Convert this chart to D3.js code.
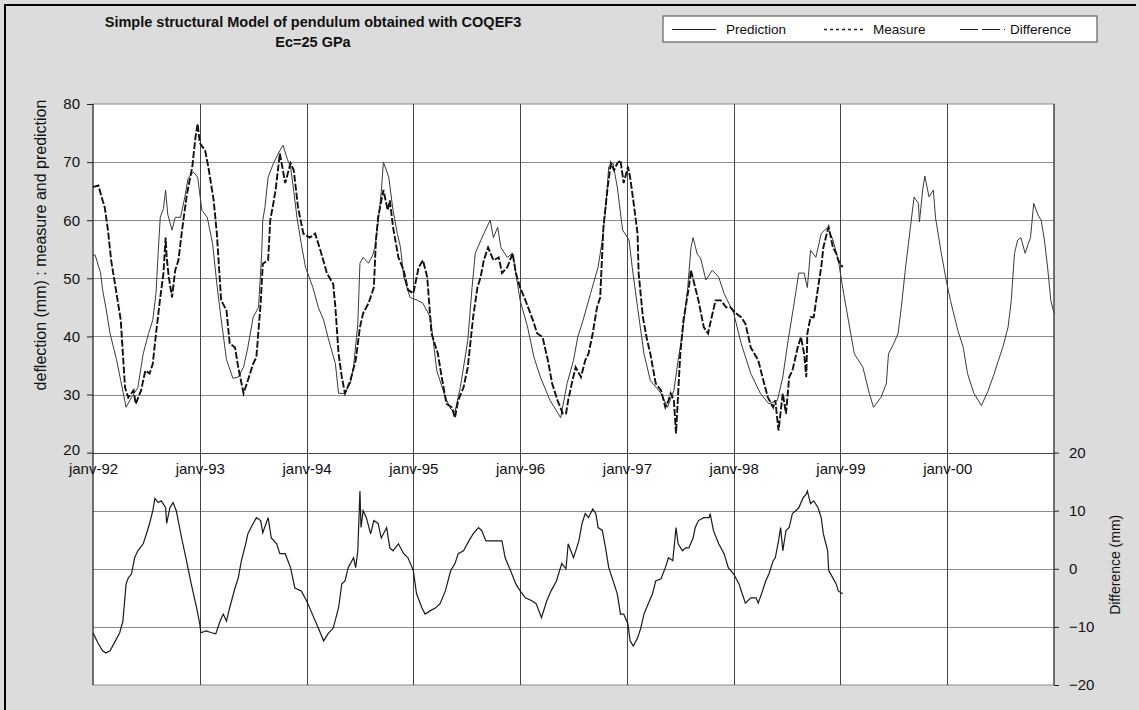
<!DOCTYPE html>
<html>
<head>
<meta charset="utf-8">
<script src="https://cdn.jsdelivr.net/npm/d3@7"></script>
<style>
  body { margin: 0; background: #ffffff; }
  svg text { font-family: "Liberation Sans", Arial, sans-serif; fill: #111; }
</style>
</head>
<body>
<svg id="chart" width="1139" height="710"></svg>
<script>
// ---- Data (dates in decimal years) ----
const predDates = [
  1992.00,1992.02,1992.07,1992.09,1992.12,1992.16,1992.22,1992.26,1992.31,1992.36,1992.42,1992.47,1992.52,1992.56,1992.59,1992.61,1992.63,1992.66,1992.68,1992.70,
  1992.74,1992.77,1992.82,1992.86,1992.89,1992.94,1992.98,1993.02,1993.07,1993.12,1993.16,1993.20,1993.25,1993.31,1993.36,1993.41,1993.45,1993.50,1993.55,1993.58,
  1993.59,1993.61,1993.64,1993.69,1993.75,1993.78,1993.82,1993.85,1993.88,1993.91,1993.95,1993.99,1994.06,1994.11,1994.16,1994.20,1994.27,1994.30,1994.36,1994.41,
  1994.44,1994.48,1994.50,1994.53,1994.58,1994.62,1994.64,1994.67,1994.70,1994.72,1994.77,1994.81,1994.85,1994.88,1994.91,1994.97,1995.04,1995.09,1995.16,1995.22,
  1995.30,1995.35,1995.39,1995.44,1995.51,1995.55,1995.58,1995.66,1995.72,1995.75,1995.79,1995.82,1995.88,1995.93,1995.96,1996.00,1996.07,1996.13,1996.19,1996.28,
  1996.38,1996.44,1996.50,1996.54,1996.59,1996.66,1996.73,1996.77,1996.80,1996.83,1996.87,1996.91,1996.96,1997.02,1997.05,1997.10,1997.16,1997.22,1997.32,1997.38,
  1997.44,1997.48,1997.52,1997.57,1997.60,1997.62,1997.66,1997.69,1997.74,1997.80,1997.86,1997.91,1998.00,1998.07,1998.16,1998.25,1998.33,1998.41,1998.46,1998.51,
  1998.56,1998.61,1998.66,1998.69,1998.72,1998.77,1998.82,1998.88,1998.93,1998.98,1999.03,1999.13,1999.21,1999.27,1999.31,1999.38,1999.43,1999.45,1999.50,1999.54,
  1999.57,1999.61,1999.66,1999.69,1999.73,1999.74,1999.77,1999.79,1999.83,1999.87,1999.89,1999.94,1999.99,2000.03,2000.10,2000.15,2000.19,2000.25,2000.32,2000.38,
  2000.44,2000.48,2000.52,2000.57,2000.60,2000.63,2000.66,2000.69,2000.73,2000.76,2000.78,2000.81,2000.85,2000.88,2000.91,2000.94,2000.97,2001.00
];
const predValues = [
  54,54,51,48,45,40.5,36,32.4,27.8,29.5,31.2,37,40.5,42.8,47.4,54.3,60.5,62,65.2,61,
  58.3,60.5,60.5,64,67.2,68.3,67.4,61.7,60.5,56,49,43,36,32.8,33,34.7,38.1,43.3,45,54.3,
  60,62.2,67.4,69.8,72,72.9,70.5,69.2,65,60.5,56,51.9,48.4,45,42.8,39.9,35.3,30.2,30.2,32,
  34.7,42.2,52.6,53.6,52.6,54,55.3,59.5,65,70,67.4,61.7,57.7,55.3,50.2,46.7,46.2,45.7,43.3,34.1,
  29.5,27.5,27,31.2,39.3,48.4,54.3,57.7,60,57,58.8,55.3,53.6,54.3,50.9,46.2,41.6,36.4,33,29,
  26,31.9,35.9,39.9,42.8,47.4,51.9,56.6,61.7,69.2,69.8,65.7,58.3,56.6,51.9,45,37,32.4,30.2,27.8,
  30.7,35.9,40.5,48.4,55.3,57,54.1,53.5,49.7,51.4,50.2,47.4,44,38.8,33.6,30.2,28.4,29,33,39.3,
  45,50.9,50.9,48.4,54.8,53.6,57.7,58.8,56.6,53.1,47.4,37,34.7,30.2,27.8,29.5,31.9,37,38.8,40.5,
  45,51.9,59.5,64,62.9,59.7,65.2,67.6,64,65.2,60.5,54.8,49.7,46.2,41,38.1,33.6,30.2,28.1,30.5,
  33.6,35.9,38.1,41.6,46.2,54.3,56.6,57,54.3,56,57,62.9,60.9,60,56.6,51.9,46.2,44
];

const measDates = [
  1992.00,1992.05,1992.08,1992.11,1992.14,1992.17,1992.22,1992.26,1992.28,1992.30,1992.33,1992.38,1992.40,1992.45,1992.49,1992.53,1992.56,1992.59,1992.63,1992.66,
  1992.68,1992.69,1992.71,1992.74,1992.77,1992.80,1992.83,1992.85,1992.88,1992.93,1992.96,1992.98,1993.00,1993.05,1993.08,1993.13,1993.16,1993.20,1993.25,1993.28,
  1993.33,1993.36,1993.41,1993.45,1993.50,1993.53,1993.57,1993.59,1993.64,1993.66,1993.69,1993.71,1993.75,1993.80,1993.85,1993.88,1993.92,1993.97,1994.03,1994.08,
  1994.13,1994.19,1994.25,1994.27,1994.30,1994.33,1994.36,1994.41,1994.46,1994.50,1994.53,1994.58,1994.63,1994.65,1994.67,1994.72,1994.76,1994.78,1994.81,1994.86,
  1994.91,1994.95,1995.00,1995.05,1995.09,1995.13,1995.17,1995.23,1995.26,1995.31,1995.36,1995.39,1995.42,1995.47,1995.51,1995.56,1995.60,1995.63,1995.66,1995.70,
  1995.75,1995.80,1995.83,1995.88,1995.93,1995.96,1996.00,1996.05,1996.12,1996.16,1996.21,1996.26,1996.30,1996.35,1996.40,1996.43,1996.45,1996.49,1996.52,1996.57,
  1996.61,1996.64,1996.68,1996.72,1996.75,1996.77,1996.78,1996.82,1996.85,1996.88,1996.91,1996.94,1996.97,1997.01,1997.03,1997.06,1997.10,1997.11,1997.15,1997.19,
  1997.22,1997.27,1997.32,1997.36,1997.39,1997.41,1997.44,1997.46,1997.48,1997.50,1997.53,1997.58,1997.60,1997.64,1997.67,1997.72,1997.76,1997.78,1997.83,1997.88,
  1997.93,1997.97,1998.02,1998.07,1998.11,1998.16,1998.23,1998.27,1998.32,1998.37,1998.39,1998.42,1998.46,1998.49,1998.52,1998.55,1998.60,1998.63,1998.66,1998.68,
  1998.69,1998.72,1998.75,1998.79,1998.82,1998.84,1998.88,1998.89,1998.93,1998.96,1998.98,1999.02
];
const measValues = [
  65.7,66,64,62.2,58.3,53.1,47.4,42.8,37,31.2,29.5,30.7,28.4,30.7,34.1,33.6,35.3,40.5,46.7,50.9,
  57,53.6,50.2,46.7,51.4,53.1,57.7,60.5,64.5,69.2,74.3,76.6,73.3,72,69.2,63.4,57.7,46.2,44.5,38.8,
  38.1,34.7,30.2,32.4,35.3,36.4,45.7,52.5,53.1,60,63,65.2,71.5,66.4,69.8,68.6,62.2,57.7,57,57.7,
  54.8,50.9,49,45,37,33,30.2,32.4,35.9,41.6,44,45.7,48.4,56.6,60.5,65.2,61.7,63.4,58.8,53.6,
  51.4,48,47.4,51.9,53.1,50.2,40.5,37,33.6,28.4,27.8,26,29,31.2,34.7,43.3,48.4,50.2,53.1,55.3,
  53.1,53.6,50.9,51.9,54.3,50.9,48.4,46.2,42.8,40.5,39.9,35.9,31.9,29,26.7,26.7,29,32.4,34.7,33,
  35.9,37,40.5,45,46.7,54.8,58.8,65.7,69.8,68.6,69.8,70.3,66.4,69.2,67.4,63.4,57.7,50.9,43.3,39.3,
  37,31.9,30.7,27.8,29,30.2,29,23.3,30.2,37,42.8,48.4,51.4,48.4,46.2,41.6,40.5,42.2,46.2,46.2,
  45,45,44,43.3,42.2,38.1,35.9,33,29.5,27.8,29,23.8,30.2,26.7,33,34.1,38.1,39.9,37,33,
  40.5,43.3,43.3,48.4,51.9,55.3,58.3,58.8,55.3,54.3,53.1,51.9
];

const diffDates = [
  1992.00,1992.05,1992.09,1992.12,1992.16,1992.21,1992.25,1992.28,1992.31,1992.33,1992.36,1992.39,1992.42,1992.47,1992.50,1992.53,1992.56,1992.58,1992.61,1992.64,
  1992.68,1992.69,1992.72,1992.75,1992.78,1992.83,1992.87,1992.92,1992.97,1993.00,1993.01,1993.06,1993.11,1993.15,1993.19,1993.22,1993.25,1993.28,1993.33,1993.36,
  1993.39,1993.43,1993.45,1993.48,1993.53,1993.57,1993.59,1993.64,1993.67,1993.72,1993.75,1993.80,1993.85,1993.89,1993.95,1994.00,1994.04,1994.11,1994.16,1994.20,
  1994.25,1994.30,1994.33,1994.36,1994.39,1994.44,1994.46,1994.48,1994.50,1994.51,1994.53,1994.56,1994.60,1994.63,1994.67,1994.70,1994.75,1994.78,1994.81,1994.86,
  1994.91,1994.95,1995.00,1995.03,1995.08,1995.11,1995.16,1995.21,1995.25,1995.30,1995.35,1995.39,1995.42,1995.47,1995.52,1995.56,1995.61,1995.64,1995.68,1995.72,
  1995.77,1995.83,1995.86,1995.91,1995.96,1996.00,1996.05,1996.11,1996.15,1996.20,1996.25,1996.29,1996.34,1996.39,1996.43,1996.45,1996.50,1996.53,1996.55,1996.58,
  1996.61,1996.64,1996.68,1996.71,1996.73,1996.77,1996.80,1996.83,1996.88,1996.91,1996.94,1996.97,1997.01,1997.03,1997.06,1997.10,1997.13,1997.16,1997.20,1997.24,
  1997.27,1997.32,1997.36,1997.39,1997.43,1997.46,1997.48,1997.52,1997.55,1997.58,1997.62,1997.64,1997.67,1997.72,1997.77,1997.78,1997.81,1997.86,1997.91,1997.95,
  1998.00,1998.05,1998.08,1998.11,1998.16,1998.21,1998.23,1998.27,1998.30,1998.33,1998.37,1998.39,1998.42,1998.44,1998.46,1998.49,1998.52,1998.55,1998.58,1998.61,
  1998.65,1998.68,1998.69,1998.72,1998.75,1998.79,1998.82,1998.84,1998.88,1998.89,1998.93,1998.96,1998.98,1999.02
];
const diffValues = [
  -11,-12.9,-14.1,-14.5,-14.1,-12.4,-11,-9,-2.6,-1.6,-0.9,1.9,3.1,4.3,6,7.8,10,12.1,11.4,11.7,
  10.5,7.8,10.5,11.4,10,5.3,1.9,-2.6,-6.7,-9.5,-11,-10.7,-11,-11.2,-9,-7.8,-9,-6.7,-3.3,-1.6,
  1.4,4.3,6,7.1,8.8,8.3,6.2,8.8,5.3,4.3,2.6,2.6,0.2,-3.3,-3.8,-5.5,-7.2,-10.2,-12.4,-11.2,
  -10.2,-6.7,-2.6,-2.1,0.2,1.9,0.2,3.1,13.4,7.1,10,8.8,6,8.3,7.8,5.3,7.1,3.6,3.1,4.3,
  2.6,1.9,-0.3,-4.3,-6.7,-7.8,-7.2,-6.7,-6,-3.8,-0.3,0.9,2.6,3.1,4.8,6,7.1,6.6,4.8,4.8,
  4.8,4.8,1.9,-0.3,-2.6,-3.8,-5,-5.5,-6,-8.4,-5.5,-3.8,-2.1,0.9,0,4.3,1.9,3.6,4.8,7.8,
  9.5,8.8,10.3,9.5,7.1,6.6,3.6,0.2,-2.6,-4.3,-7.8,-7.8,-9.5,-12.4,-13.3,-11.9,-10.2,-7.8,-6,-4.3,
  -2.1,-1.7,0.2,1.9,1.4,7.1,4.3,3.1,3.6,3.6,5.3,7.1,8.3,8.8,8.8,9.5,6.6,4.3,2.6,0.2,
  -0.9,-2.6,-4.3,-5.9,-5,-5,-5.9,-3.8,-2.1,-0.9,1.4,1.9,4.8,7.1,3.1,6.6,7.1,9.5,10,10.5,
  12.2,12.9,13.4,11.2,11.7,10.5,8.8,6,3.1,-0.3,-1.6,-2.6,-3.8,-4.3
];

// ---- Axis ticks and labels ----
const yearTicks  = [1992, 1993, 1994, 1995, 1996, 1997, 1998, 1999, 2000];
const yearLabels = ["janv-92","janv-93","janv-94","janv-95","janv-96","janv-97","janv-98","janv-99","janv-00"];
const leftTicks  = [20, 30, 40, 50, 60, 70, 80];
const rightTicks = [-20, -10, 0, 10, 20];
const gridValues = [-10, 0, 10, 20, 30, 40, 50, 60, 70];
const titleLines = ["Simple structural Model of pendulum obtained with COQEF3", "Ec=25 GPa"];
const leftTitle  = "deflection (mm) : measure and prediction";
const rightTitle = "Difference (mm)";
const seriesNames = ["Prediction", "Measure", "Difference"];

// ---- Layout ----
const W = 1139, H = 710;
const plot = { left: 93, right: 1054, top: 104, bottom: 685 };

const svg = d3.select("#chart");

// chart background and frame
svg.append("rect").attr("x", 0).attr("y", 0).attr("width", W).attr("height", H).attr("fill", "#dcdcdc");
svg.append("path")
  .attr("d", `M5,${H} L5,5 L${W - 3},5`)
  .attr("fill", "none").attr("stroke", "#000").attr("stroke-width", 2);

// plot area
svg.append("rect")
  .attr("x", plot.left).attr("y", plot.top)
  .attr("width", plot.right - plot.left).attr("height", plot.bottom - plot.top)
  .attr("fill", "#fff").attr("stroke", "#8a8a8a").attr("stroke-width", 1);

const x = d3.scaleLinear().domain([1992, 2001]).range([plot.left, plot.right]);
const y = d3.scaleLinear().domain([-20, 80]).range([plot.bottom, plot.top]);

// gridlines
const grid = svg.append("g");
grid.selectAll("line.h").data(gridValues).join("line")
  .attr("class", "h")
  .attr("x1", plot.left).attr("x2", plot.right)
  .attr("y1", d => Math.round(y(d)) + 0.5).attr("y2", d => Math.round(y(d)) + 0.5)
  .attr("stroke", d => d === 20 ? "#444" : "#8c8c8c")
  .attr("stroke-width", 1);
grid.selectAll("line.v").data(yearTicks.slice(1)).join("line")
  .attr("class", "v")
  .attr("x1", d => Math.round(x(d)) + 0.5).attr("x2", d => Math.round(x(d)) + 0.5)
  .attr("y1", plot.top).attr("y2", plot.bottom)
  .attr("stroke", "#444").attr("stroke-width", 1);

// axes
const axisFont = g => g.selectAll("text")
  .style("font-family", '"Liberation Sans", Arial, sans-serif')
  .style("font-size", "15px").attr("fill", "#111");

const leftAxis = svg.append("g")
  .attr("transform", `translate(${plot.left},0)`)
  .call(d3.axisLeft(y).tickValues(leftTicks).tickSize(6).tickPadding(7).tickSizeOuter(0))
  .call(axisFont);
leftAxis.select(".domain").attr("stroke", "#222").attr("d", `M0,${plot.top}V${plot.bottom}`);
leftAxis.selectAll(".tick line").attr("stroke", "#222");
// keep the lowest label clear of the date labels below it
leftAxis.selectAll(".tick text").attr("dy", d => d === 20 ? "0.15em" : "0.32em");

const rightAxis = svg.append("g")
  .attr("transform", `translate(${plot.right},0)`)
  .call(d3.axisRight(y).tickValues(rightTicks).tickSize(5).tickPadding(10).tickSizeOuter(0))
  .call(axisFont);
rightAxis.select(".domain").attr("stroke", "#222").attr("d", `M0,${plot.top}V${plot.bottom}`);
rightAxis.selectAll(".tick line").attr("stroke", "#222");

const xAxis = svg.append("g")
  .attr("transform", `translate(0,${y(20)})`)
  .call(d3.axisBottom(x).tickValues(yearTicks).tickFormat((d, i) => yearLabels[i]).tickSize(0).tickPadding(11))
  .call(axisFont);
xAxis.select(".domain").remove();

// axis titles
svg.append("text")
  .attr("transform", `translate(46,245) rotate(-90)`)
  .attr("text-anchor", "middle")
  .style("font-size", "16px")
  .text(leftTitle);
svg.append("text")
  .attr("transform", `translate(1120,${y(0) - 4}) rotate(-90)`)
  .attr("text-anchor", "middle")
  .style("font-size", "14px")
  .text(rightTitle);

// series
const line = (dates, values) => d3.line()
  .x((d, i) => x(dates[i]))
  .y(d => y(d))(values);

svg.append("path")
  .attr("d", line(predDates, predValues))
  .attr("fill", "none").attr("stroke", "#3a3a3a").attr("stroke-width", 1);

svg.append("path")
  .attr("d", line(measDates, measValues))
  .attr("fill", "none").attr("stroke", "#111").attr("stroke-width", 1.9)
  .attr("stroke-dasharray", "7,2");

svg.append("path")
  .attr("d", line(diffDates, diffValues))
  .attr("fill", "none").attr("stroke", "#1a1a1a").attr("stroke-width", 1.2);

// title
svg.selectAll("text.title").data(titleLines).join("text")
  .attr("class", "title")
  .attr("x", 313).attr("y", (d, i) => 27 + i * 20)
  .attr("text-anchor", "middle")
  .style("font-size", "14.5px").style("font-weight", "bold")
  .text(d => d);

// legend
const legend = svg.append("g");
legend.append("rect")
  .attr("x", 663).attr("y", 16).attr("width", 434).attr("height", 26)
  .attr("fill", "#fff").attr("stroke", "#444").attr("stroke-width", 1);
const legendLayout = [
  { x0: 672, x1: 716, tx: 726, dash: null, w: 1 },
  { x0: 824, x1: 866, tx: 873, dash: "3,3", w: 1.4 },
  { x0: 960, x1: 1005, tx: 1010, dash: "18,4", w: 1.2 }
];
seriesNames.forEach((name, i) => {
  const L = legendLayout[i];
  legend.append("line")
    .attr("x1", L.x0).attr("x2", L.x1).attr("y1", 29.5).attr("y2", 29.5)
    .attr("stroke", "#222").attr("stroke-width", L.w)
    .attr("stroke-dasharray", L.dash);
  legend.append("text")
    .attr("x", L.tx).attr("y", 34)
    .style("font-size", "13.5px")
    .text(name);
});
</script>
</body>
</html>
